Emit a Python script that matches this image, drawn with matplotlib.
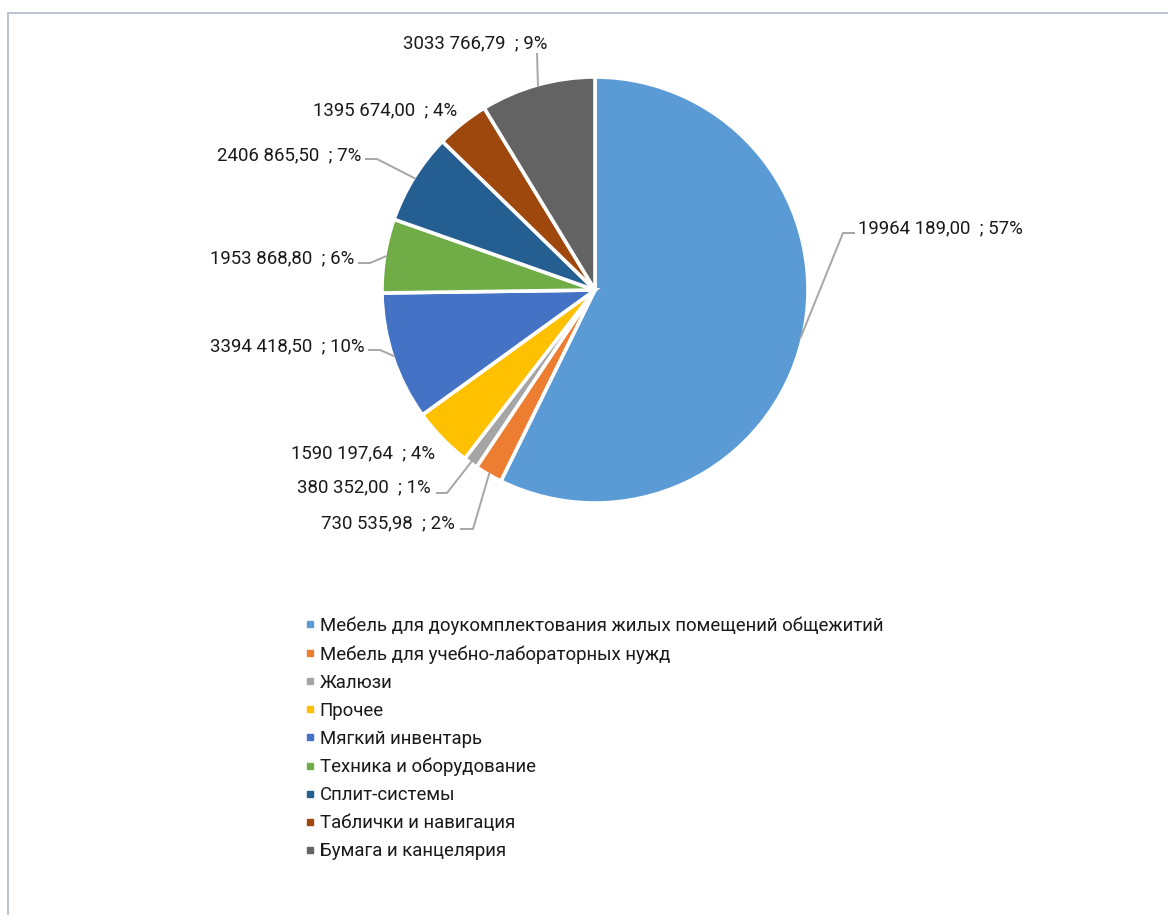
import numpy as np
import matplotlib
matplotlib.use("Agg")
import matplotlib.pyplot as plt
from matplotlib.lines import Line2D
from matplotlib.patches import Rectangle

plt.rcParams['font.family'] = ['Roboto', 'DejaVu Sans']

# Data
categories = [
    "Мебель для доукомплектования жилых помещений общежитий",
    "Мебель для учебно-лабораторных нужд",
    "Жалюзи",
    "Прочее",
    "Мягкий инвентарь",
    "Техника и оборудование",
    "Сплит-системы",
    "Таблички и навигация",
    "Бумага и канцелярия",
]
values = [19964189.00, 730535.98, 380352.00, 1590197.64, 3394418.50,
          1953868.80, 2406865.50, 1395674.00, 3033766.79]
pct_labels = ["57%", "2%", "1%", "4%", "10%", "6%", "7%", "4%", "9%"]
colors = ["#5B9BD5", "#ED7D31", "#A5A5A5", "#FFC000", "#4472C4",
          "#70AD47", "#255E91", "#9E480E", "#636363"]

W, H = 1168, 915
FS = 13.4


def fy(y):
    # pixel row from top -> data y (axis points up)
    return H - y


def fmt_value(v):
    cents = int(round(v * 100))
    whole, frac = divmod(cents, 100)
    hi, lo = divmod(whole, 1000)
    return f"{hi} {lo:03d},{frac:02d}"


# Layout of the data labels (pixel positions, from top-left)
label_pos = [(858, 228, 'left'), (455, 523, 'right'), (431, 487, 'right'),
             (435, 453, 'right'), (364, 346, 'right'), (354, 258, 'right'),
             (361, 155, 'right'), (457, 110, 'right'), (475, 43, 'center')]
leader_pts = [[(843, 233), (855, 233)], [(473, 529), (460, 529)],
              [(447, 493), (436, 493)], None, [(380, 350), (368, 350)],
              [(370, 263), (358, 263)], [(377, 159), (365, 159)], None,
              [(537, 53)]]

fig = plt.figure(figsize=(W / 100, H / 100), dpi=100)
ax = fig.add_axes([0, 0, 1, 1])

cx, cy, radius = 595, 290, 213
wedges, _ = ax.pie(values, colors=colors, startangle=90, counterclock=False,
                   center=(cx, fy(cy)), radius=radius,
                   wedgeprops=dict(edgecolor="white", linewidth=2.6))

ax.set_xlim(0, W)
ax.set_ylim(0, H)
ax.set_aspect('equal')
ax.axis('off')

# chart frame
ax.add_patch(Rectangle((8, -20), W + 20, fy(13) + 20, fill=False,
                       edgecolor="#BAC3D0", linewidth=1.4, zorder=0))

r_edge = radius - 2
for w, v, p, pos, pts in zip(wedges, values, pct_labels, label_pos, leader_pts):
    x, y, ha = pos
    ax.text(x, fy(y), f"{fmt_value(v)}  ; {p}", ha=ha, va='center',
            fontsize=FS, color="#1a1a1a")
    if pts is None:
        continue
    ang = np.deg2rad((w.theta1 + w.theta2) / 2)
    xs = [cx + r_edge * np.cos(ang)] + [q[0] for q in pts]
    ys = [fy(cy) + r_edge * np.sin(ang)] + [fy(q[1]) for q in pts]
    ax.plot(xs, ys, color="#A6A6A6", linewidth=1.4, solid_capstyle='butt')

handles = [Line2D([], [], marker='s', linestyle='none', markersize=4.5,
                  markerfacecolor=c, markeredgecolor=c) for c in colors]
ax.legend(handles, categories, loc='upper left',
          bbox_to_anchor=(305 / W, 1 - 616.5 / H), frameon=False,
          fontsize=FS, handlelength=0.5, handletextpad=0.29,
          labelspacing=0.54, borderpad=0, borderaxespad=0,
          labelcolor="#1a1a1a")

fig.savefig("out.png", dpi=100)
